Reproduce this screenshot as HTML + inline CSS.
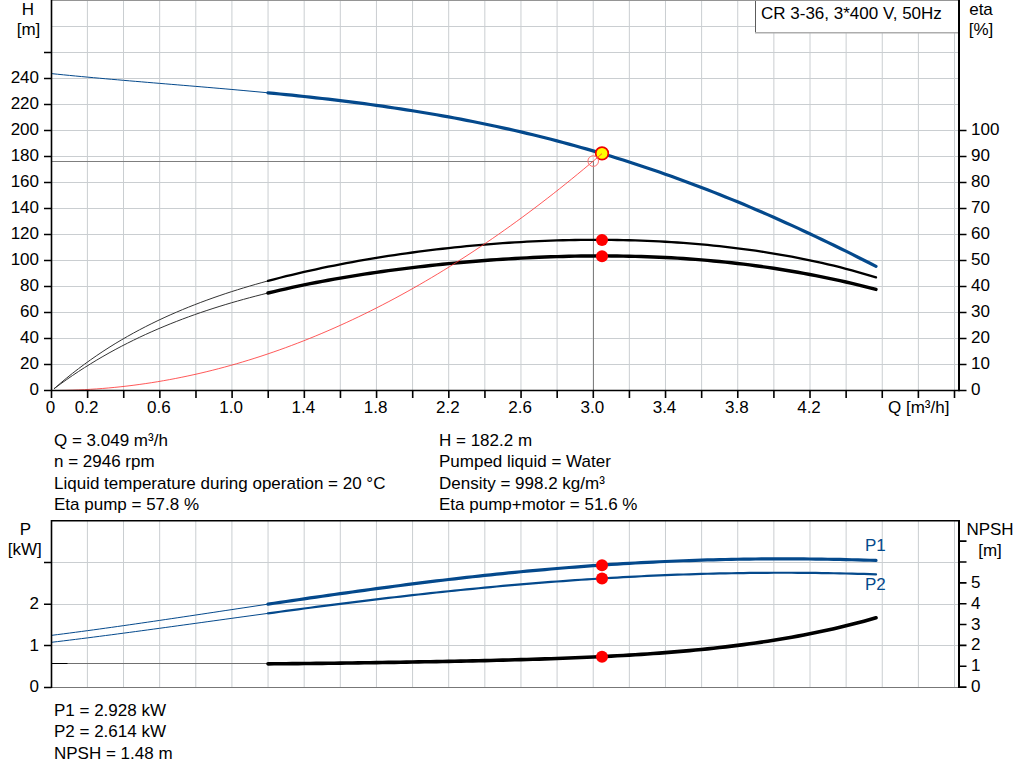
<!DOCTYPE html><html><head><meta charset="utf-8"><style>html,body{margin:0;padding:0;background:#fff;width:1024px;height:781px;overflow:hidden}svg{display:block}text{font-family:"Liberation Sans",sans-serif;font-size:17px;fill:#000}</style></head><body>
<svg width="1024" height="781" viewBox="0 0 1024 781">
<path d="M87.40,0V390M87.40,520.5V687M123.53,0V390M123.53,520.5V687M159.66,0V390M159.66,520.5V687M195.79,0V390M195.79,520.5V687M231.92,0V390M231.92,520.5V687M268.05,0V390M268.05,520.5V687M304.18,0V390M304.18,520.5V687M340.31,0V390M340.31,520.5V687M376.44,0V390M376.44,520.5V687M412.57,0V390M412.57,520.5V687M448.70,0V390M448.70,520.5V687M484.83,0V390M484.83,520.5V687M520.96,0V390M520.96,520.5V687M557.09,0V390M557.09,520.5V687M593.22,0V390M593.22,520.5V687M629.35,0V390M629.35,520.5V687M665.48,0V390M665.48,520.5V687M701.61,0V390M701.61,520.5V687M737.74,0V390M737.74,520.5V687M773.87,0V390M773.87,520.5V687M810.00,0V390M810.00,520.5V687M846.13,0V390M846.13,520.5V687M882.26,0V390M882.26,520.5V687M918.39,0V390M918.39,520.5V687M954.52,0V390M954.52,520.5V687" stroke="#caced1" stroke-width="1" fill="none"/>
<path d="M51,364.5H959M51,338.5H959M51,312.5H959M51,286.5H959M51,260.5H959M51,234.5H959M51,208.5H959M51,182.5H959M51,156.5H959M51,130.5H959M51,104.5H959M51,78.5H959M51,52.5H959M51,26.5H959M51,562.5H959M51,604.5H959M51,645.5H959" stroke="#caced1" stroke-width="1" fill="none" shape-rendering="crispEdges"/>
<rect x="755" y="0" width="204" height="33" fill="#fff"/>
<path d="M755.5,0V32.5" stroke="#5c5c5c" stroke-width="1"/>
<path d="M755,32.75H958" stroke="#adadad" stroke-width="1.5"/>
<path d="M958.5,0V33" stroke="#c8c8c8" stroke-width="1"/>
<path d="M51,0.5H959" stroke="#959595" stroke-width="1" shape-rendering="crispEdges"/>
<text x="761" y="19">CR 3-36, 3*400 V, 50Hz</text>
<path d="M51,161.5H593.5V390" stroke="#7f7f7f" stroke-width="1" fill="none" shape-rendering="crispEdges"/>
<path d="M51.50,73.61 L57.51,74.23 L63.53,74.83 L69.54,75.42 L75.56,76.00 L81.57,76.57 L87.58,77.13 L93.60,77.69 L99.61,78.23 L105.62,78.77 L111.64,79.30 L117.65,79.82 L123.67,80.34 L129.68,80.86 L135.69,81.37 L141.71,81.87 L147.72,82.38 L153.74,82.88 L159.75,83.38 L165.76,83.88 L171.78,84.38 L177.79,84.88 L183.81,85.38 L189.82,85.88 L195.83,86.38 L201.85,86.89 L207.86,87.40 L213.88,87.91 L219.89,88.43 L225.90,88.95 L231.92,89.48 L237.93,90.02 L243.94,90.56 L249.96,91.11 L255.97,91.67 L261.99,92.23 L268.00,92.81" stroke="#04498c" stroke-width="1" fill="none"/>
<path d="M268.00,92.81 L274.02,93.39 L280.04,93.99 L286.06,94.59 L292.08,95.21 L298.10,95.84 L304.12,96.48 L310.14,97.14 L316.16,97.81 L322.18,98.49 L328.20,99.19 L334.22,99.90 L340.24,100.63 L346.26,101.37 L352.28,102.13 L358.30,102.91 L364.32,103.70 L370.34,104.52 L376.36,105.35 L382.38,106.20 L388.40,107.07 L394.42,107.96 L400.44,108.87 L406.46,109.80 L412.48,110.75 L418.50,111.72 L424.51,112.72 L430.53,113.73 L436.55,114.77 L442.57,115.84 L448.59,116.92 L454.61,118.03 L460.63,119.17 L466.65,120.33 L472.67,121.51 L478.69,122.72 L484.71,123.96 L490.73,125.22 L496.75,126.51 L502.77,127.82 L508.79,129.16 L514.81,130.53 L520.83,131.92 L526.85,133.35 L532.87,134.80 L538.89,136.28 L544.91,137.78 L550.93,139.32 L556.95,140.88 L562.97,142.48 L568.99,144.10 L575.01,145.75 L581.03,147.44 L587.05,149.15 L593.07,150.89 L599.09,152.66 L605.11,154.46 L611.13,156.29 L617.15,158.16 L623.17,160.05 L629.19,161.97 L635.21,163.93 L641.23,165.91 L647.25,167.93 L653.27,169.97 L659.29,172.05 L665.31,174.16 L671.33,176.30 L677.35,178.47 L683.37,180.66 L689.39,182.90 L695.41,185.16 L701.43,187.45 L707.45,189.77 L713.47,192.12 L719.49,194.51 L725.50,196.92 L731.52,199.36 L737.54,201.83 L743.56,204.34 L749.58,206.87 L755.60,209.43 L761.62,212.02 L767.64,214.64 L773.66,217.29 L779.68,219.96 L785.70,222.67 L791.72,225.40 L797.74,228.16 L803.76,230.95 L809.78,233.76 L815.80,236.60 L821.82,239.47 L827.84,242.36 L833.86,245.28 L839.88,248.22 L845.90,251.19 L851.92,254.18 L857.94,257.20 L863.96,260.24 L869.98,263.30 L876.00,266.39" stroke="#04498c" stroke-width="3.2" fill="none" stroke-linecap="round"/>
<path d="M54.00,388.82 L60.11,383.51 L66.23,378.39 L72.34,373.46 L78.46,368.72 L84.57,364.15 L90.69,359.74 L96.80,355.50 L102.91,351.41 L109.03,347.47 L115.14,343.67 L121.26,340.01 L127.37,336.47 L133.49,333.06 L139.60,329.77 L145.71,326.59 L151.83,323.53 L157.94,320.56 L164.06,317.70 L170.17,314.93 L176.29,312.26 L182.40,309.67 L188.51,307.17 L194.63,304.74 L200.74,302.40 L206.86,300.13 L212.97,297.93 L219.09,295.80 L225.20,293.73 L231.31,291.73 L237.43,289.79 L243.54,287.90 L249.66,286.08 L255.77,284.30 L261.89,282.58 L268.00,280.90" stroke="#333" stroke-width="1" fill="none"/>
<path d="M268.00,280.90 L274.02,279.30 L280.04,277.74 L286.06,276.23 L292.08,274.76 L298.10,273.32 L304.12,271.93 L310.14,270.58 L316.16,269.26 L322.18,267.97 L328.20,266.73 L334.22,265.51 L340.24,264.33 L346.26,263.18 L352.28,262.06 L358.30,260.98 L364.32,259.92 L370.34,258.89 L376.36,257.89 L382.38,256.93 L388.40,255.98 L394.42,255.07 L400.44,254.19 L406.46,253.33 L412.48,252.50 L418.50,251.69 L424.51,250.92 L430.53,250.17 L436.55,249.44 L442.57,248.74 L448.59,248.07 L454.61,247.42 L460.63,246.80 L466.65,246.21 L472.67,245.64 L478.69,245.10 L484.71,244.58 L490.73,244.09 L496.75,243.62 L502.77,243.19 L508.79,242.77 L514.81,242.39 L520.83,242.03 L526.85,241.70 L532.87,241.39 L538.89,241.11 L544.91,240.86 L550.93,240.63 L556.95,240.44 L562.97,240.27 L568.99,240.12 L575.01,240.01 L581.03,239.92 L587.05,239.86 L593.07,239.83 L599.09,239.83 L605.11,239.85 L611.13,239.91 L617.15,239.99 L623.17,240.11 L629.19,240.25 L635.21,240.43 L641.23,240.63 L647.25,240.87 L653.27,241.13 L659.29,241.43 L665.31,241.76 L671.33,242.12 L677.35,242.51 L683.37,242.93 L689.39,243.39 L695.41,243.88 L701.43,244.40 L707.45,244.96 L713.47,245.56 L719.49,246.18 L725.50,246.85 L731.52,247.55 L737.54,248.28 L743.56,249.06 L749.58,249.87 L755.60,250.72 L761.62,251.61 L767.64,252.55 L773.66,253.52 L779.68,254.53 L785.70,255.59 L791.72,256.69 L797.74,257.84 L803.76,259.03 L809.78,260.27 L815.80,261.56 L821.82,262.90 L827.84,264.29 L833.86,265.73 L839.88,267.23 L845.90,268.78 L851.92,270.39 L857.94,272.05 L863.96,273.78 L869.98,275.57 L876.00,277.43" stroke="#000" stroke-width="2.3" fill="none" stroke-linecap="round"/>
<path d="M54.00,388.74 L60.11,384.23 L66.23,379.86 L72.34,375.63 L78.46,371.54 L84.57,367.58 L90.69,363.75 L96.80,360.04 L102.91,356.46 L109.03,352.99 L115.14,349.64 L121.26,346.39 L127.37,343.25 L133.49,340.21 L139.60,337.26 L145.71,334.42 L151.83,331.66 L157.94,328.99 L164.06,326.41 L170.17,323.91 L176.29,321.49 L182.40,319.14 L188.51,316.87 L194.63,314.67 L200.74,312.54 L206.86,310.48 L212.97,308.48 L219.09,306.54 L225.20,304.66 L231.31,302.84 L237.43,301.08 L243.54,299.36 L249.66,297.70 L255.77,296.09 L261.89,294.53 L268.00,293.01" stroke="#333" stroke-width="1" fill="none"/>
<path d="M268.00,293.01 L274.02,291.56 L280.04,290.15 L286.06,288.79 L292.08,287.46 L298.10,286.17 L304.12,284.92 L310.14,283.70 L316.16,282.52 L322.18,281.37 L328.20,280.25 L334.22,279.17 L340.24,278.11 L346.26,277.09 L352.28,276.09 L358.30,275.13 L364.32,274.19 L370.34,273.27 L376.36,272.39 L382.38,271.53 L388.40,270.69 L394.42,269.88 L400.44,269.10 L406.46,268.33 L412.48,267.60 L418.50,266.88 L424.51,266.19 L430.53,265.52 L436.55,264.87 L442.57,264.25 L448.59,263.65 L454.61,263.07 L460.63,262.51 L466.65,261.97 L472.67,261.46 L478.69,260.97 L484.71,260.50 L490.73,260.05 L496.75,259.62 L502.77,259.22 L508.79,258.84 L514.81,258.48 L520.83,258.14 L526.85,257.83 L532.87,257.54 L538.89,257.27 L544.91,257.03 L550.93,256.80 L556.95,256.61 L562.97,256.43 L568.99,256.29 L575.01,256.16 L581.03,256.06 L587.05,255.99 L593.07,255.94 L599.09,255.92 L605.11,255.92 L611.13,255.96 L617.15,256.01 L623.17,256.10 L629.19,256.21 L635.21,256.35 L641.23,256.52 L647.25,256.72 L653.27,256.95 L659.29,257.21 L665.31,257.50 L671.33,257.82 L677.35,258.17 L683.37,258.55 L689.39,258.96 L695.41,259.41 L701.43,259.89 L707.45,260.40 L713.47,260.94 L719.49,261.52 L725.50,262.13 L731.52,262.78 L737.54,263.46 L743.56,264.17 L749.58,264.92 L755.60,265.71 L761.62,266.54 L767.64,267.40 L773.66,268.29 L779.68,269.23 L785.70,270.20 L791.72,271.21 L797.74,272.26 L803.76,273.34 L809.78,274.47 L815.80,275.63 L821.82,276.83 L827.84,278.07 L833.86,279.35 L839.88,280.67 L845.90,282.03 L851.92,283.43 L857.94,284.88 L863.96,286.36 L869.98,287.88 L876.00,289.44" stroke="#000" stroke-width="3.4" fill="none" stroke-linecap="round"/>
<circle cx="602" cy="240" r="6" fill="#ff0000"/>
<circle cx="602" cy="256.3" r="6" fill="#ff0000"/>
<circle cx="602" cy="153.4" r="6.3" fill="#ffff00" stroke="#f00000" stroke-width="1.7"/>
<path d="M60.00,390.44 L66.09,390.33 L72.18,390.17 L78.27,389.94 L84.36,389.66 L90.45,389.31 L96.54,388.91 L102.63,388.46 L108.72,387.94 L114.81,387.37 L120.90,386.74 L126.99,386.05 L133.08,385.30 L139.17,384.49 L145.26,383.63 L151.35,382.71 L157.44,381.73 L163.53,380.69 L169.62,379.60 L175.71,378.44 L181.80,377.23 L187.89,375.96 L193.98,374.63 L200.07,373.25 L206.16,371.80 L212.25,370.30 L218.34,368.74 L224.43,367.13 L230.52,365.45 L236.61,363.72 L242.70,361.93 L248.79,360.08 L254.88,358.17 L260.97,356.21 L267.06,354.18 L273.15,352.10 L279.24,349.96 L285.33,347.77 L291.42,345.51 L297.51,343.20 L303.60,340.83 L309.69,338.40 L315.78,335.91 L321.87,333.37 L327.96,330.76 L334.04,328.10 L340.13,325.38 L346.22,322.61 L352.31,319.77 L358.40,316.88 L364.49,313.93 L370.58,310.92 L376.67,307.85 L382.76,304.73 L388.85,301.55 L394.94,298.31 L401.03,295.01 L407.12,291.65 L413.21,288.24 L419.30,284.77 L425.39,281.24 L431.48,277.65 L437.57,274.00 L443.66,270.30 L449.75,266.53 L455.84,262.71 L461.93,258.84 L468.02,254.90 L474.11,250.91 L480.20,246.85 L486.29,242.74 L492.38,238.57 L498.47,234.35 L504.56,230.06 L510.65,225.72 L516.74,221.32 L522.83,216.86 L528.92,212.35 L535.01,207.77 L541.10,203.14 L547.19,198.45 L553.28,193.71 L559.37,188.90 L565.46,184.04 L571.55,179.11 L577.64,174.13 L583.73,169.10 L589.82,164.00 L595.91,158.85 L602.00,153.64" stroke="#ff3030" stroke-opacity="0.8" stroke-width="1" fill="none"/>
<circle cx="593.2" cy="161.1" r="5.3" fill="none" stroke="#ff7070" stroke-width="1"/>
<path d="M51.5,0V391.25M50.75,390.5H959.75M44,390.5H51.5M44,364.5H51.5M44,338.5H51.5M44,312.5H51.5M44,286.5H51.5M44,260.5H51.5M44,234.5H51.5M44,208.5H51.5M44,182.5H51.5M44,156.5H51.5M44,130.5H51.5M44,104.5H51.5M44,78.5H51.5M44,52.5H51.5M959,390.5H966.5M959,364.5H966.5M959,338.5H966.5M959,312.5H966.5M959,286.5H966.5M959,260.5H966.5M959,234.5H966.5M959,208.5H966.5M959,182.5H966.5M959,156.5H966.5M959,130.5H966.5M51.50,390.5V398M87.62,390.5V398M123.74,390.5V398M159.86,390.5V398M195.98,390.5V398M232.10,390.5V398M268.22,390.5V398M304.34,390.5V398M340.46,390.5V398M376.58,390.5V398M412.70,390.5V398M448.82,390.5V398M484.94,390.5V398M521.06,390.5V398M557.18,390.5V398M593.30,390.5V398M629.42,390.5V398M665.54,390.5V398M701.66,390.5V398M737.78,390.5V398M773.90,390.5V398M810.02,390.5V398M846.14,390.5V398M882.26,390.5V398M918.38,390.5V398M954.50,390.5V398" stroke="#000" stroke-width="1.6" fill="none"/>
<path d="M959,0V391.25" stroke="#000" stroke-width="2" fill="none"/>
<text x="39" y="394.5" text-anchor="end">0</text>
<text x="39" y="368.5" text-anchor="end">20</text>
<text x="39" y="342.5" text-anchor="end">40</text>
<text x="39" y="316.5" text-anchor="end">60</text>
<text x="39" y="290.5" text-anchor="end">80</text>
<text x="39" y="264.5" text-anchor="end">100</text>
<text x="39" y="238.5" text-anchor="end">120</text>
<text x="39" y="212.5" text-anchor="end">140</text>
<text x="39" y="186.5" text-anchor="end">160</text>
<text x="39" y="160.5" text-anchor="end">180</text>
<text x="39" y="134.5" text-anchor="end">200</text>
<text x="39" y="108.5" text-anchor="end">220</text>
<text x="39" y="82.5" text-anchor="end">240</text>
<text x="971" y="395.3">0</text>
<text x="971" y="369.3">10</text>
<text x="971" y="343.3">20</text>
<text x="971" y="317.3">30</text>
<text x="971" y="291.3">40</text>
<text x="971" y="265.3">50</text>
<text x="971" y="239.3">60</text>
<text x="971" y="213.3">70</text>
<text x="971" y="187.3">80</text>
<text x="971" y="161.3">90</text>
<text x="971" y="135.3">100</text>
<text x="50.5" y="413" text-anchor="middle">0</text>
<text x="86.6" y="413" text-anchor="middle">0.2</text>
<text x="158.9" y="413" text-anchor="middle">0.6</text>
<text x="231.1" y="413" text-anchor="middle">1.0</text>
<text x="303.3" y="413" text-anchor="middle">1.4</text>
<text x="375.6" y="413" text-anchor="middle">1.8</text>
<text x="447.8" y="413" text-anchor="middle">2.2</text>
<text x="520.1" y="413" text-anchor="middle">2.6</text>
<text x="592.3" y="413" text-anchor="middle">3.0</text>
<text x="664.5" y="413" text-anchor="middle">3.4</text>
<text x="736.8" y="413" text-anchor="middle">3.8</text>
<text x="809.0" y="413" text-anchor="middle">4.2</text>
<text x="888" y="413">Q [m³/h]</text>
<text x="28" y="15.2" text-anchor="middle">H</text>
<text x="28.5" y="35" text-anchor="middle">[m]</text>
<text x="981" y="15" text-anchor="middle">eta</text>
<text x="981" y="35.2" text-anchor="middle">[%]</text>
<text x="54" y="445.6">Q = 3.049 m³/h</text>
<text x="54" y="466.9">n = 2946 rpm</text>
<text x="54" y="489.2">Liquid temperature during operation = 20 °C</text>
<text x="54" y="509.6">Eta pump = 57.8 %</text>
<text x="439" y="445.6">H = 182.2 m</text>
<text x="439" y="466.9">Pumped liquid = Water</text>
<text x="439" y="489.2">Density = 998.2 kg/m³</text>
<text x="439" y="509.6">Eta pump+motor = 51.6 %</text>
<path d="M51,687.5H959" stroke="#777" stroke-width="1" shape-rendering="crispEdges"/>
<text x="865" y="551" style="fill:#04498c">P1</text>
<text x="865" y="590" style="fill:#04498c">P2</text>
<path d="M51.50,635.36 L57.51,634.60 L63.53,633.83 L69.54,633.05 L75.56,632.26 L81.57,631.46 L87.58,630.65 L93.60,629.83 L99.61,629.00 L105.62,628.17 L111.64,627.33 L117.65,626.48 L123.67,625.62 L129.68,624.76 L135.69,623.90 L141.71,623.02 L147.72,622.15 L153.74,621.27 L159.75,620.38 L165.76,619.49 L171.78,618.60 L177.79,617.71 L183.81,616.81 L189.82,615.91 L195.83,615.01 L201.85,614.11 L207.86,613.20 L213.88,612.30 L219.89,611.39 L225.90,610.48 L231.92,609.58 L237.93,608.67 L243.94,607.77 L249.96,606.86 L255.97,605.96 L261.99,605.06 L268.00,604.16" stroke="#04498c" stroke-width="1" fill="none"/>
<path d="M268.00,604.16 L274.02,603.27 L280.04,602.37 L286.06,601.48 L292.08,600.59 L298.10,599.71 L304.12,598.83 L310.14,597.95 L316.16,597.08 L322.18,596.21 L328.20,595.35 L334.22,594.49 L340.24,593.64 L346.26,592.80 L352.28,591.96 L358.30,591.12 L364.32,590.29 L370.34,589.47 L376.36,588.66 L382.38,587.85 L388.40,587.05 L394.42,586.26 L400.44,585.48 L406.46,584.70 L412.48,583.94 L418.50,583.18 L424.51,582.43 L430.53,581.69 L436.55,580.96 L442.57,580.23 L448.59,579.52 L454.61,578.82 L460.63,578.13 L466.65,577.44 L472.67,576.77 L478.69,576.11 L484.71,575.46 L490.73,574.82 L496.75,574.19 L502.77,573.57 L508.79,572.96 L514.81,572.36 L520.83,571.78 L526.85,571.20 L532.87,570.64 L538.89,570.09 L544.91,569.56 L550.93,569.03 L556.95,568.52 L562.97,568.02 L568.99,567.53 L575.01,567.05 L581.03,566.59 L587.05,566.14 L593.07,565.70 L599.09,565.28 L605.11,564.87 L611.13,564.47 L617.15,564.09 L623.17,563.72 L629.19,563.36 L635.21,563.01 L641.23,562.68 L647.25,562.36 L653.27,562.06 L659.29,561.77 L665.31,561.49 L671.33,561.23 L677.35,560.98 L683.37,560.75 L689.39,560.53 L695.41,560.32 L701.43,560.12 L707.45,559.94 L713.47,559.78 L719.49,559.63 L725.50,559.49 L731.52,559.36 L737.54,559.25 L743.56,559.16 L749.58,559.07 L755.60,559.00 L761.62,558.95 L767.64,558.91 L773.66,558.88 L779.68,558.87 L785.70,558.87 L791.72,558.88 L797.74,558.91 L803.76,558.95 L809.78,559.00 L815.80,559.07 L821.82,559.15 L827.84,559.24 L833.86,559.34 L839.88,559.46 L845.90,559.60 L851.92,559.74 L857.94,559.90 L863.96,560.07 L869.98,560.25 L876.00,560.45" stroke="#04498c" stroke-width="3.2" fill="none" stroke-linecap="round"/>
<path d="M51.50,642.31 L57.51,641.59 L63.53,640.86 L69.54,640.12 L75.56,639.38 L81.57,638.62 L87.58,637.86 L93.60,637.09 L99.61,636.32 L105.62,635.53 L111.64,634.75 L117.65,633.95 L123.67,633.15 L129.68,632.35 L135.69,631.54 L141.71,630.73 L147.72,629.91 L153.74,629.09 L159.75,628.27 L165.76,627.45 L171.78,626.62 L177.79,625.79 L183.81,624.96 L189.82,624.13 L195.83,623.30 L201.85,622.47 L207.86,621.63 L213.88,620.80 L219.89,619.97 L225.90,619.14 L231.92,618.31 L237.93,617.48 L243.94,616.65 L249.96,615.83 L255.97,615.01 L261.99,614.19 L268.00,613.37" stroke="#04498c" stroke-width="1" fill="none"/>
<path d="M268.00,613.37 L274.02,612.55 L280.04,611.74 L286.06,610.93 L292.08,610.13 L298.10,609.33 L304.12,608.53 L310.14,607.74 L316.16,606.96 L322.18,606.17 L328.20,605.40 L334.22,604.63 L340.24,603.86 L346.26,603.10 L352.28,602.35 L358.30,601.60 L364.32,600.86 L370.34,600.13 L376.36,599.40 L382.38,598.68 L388.40,597.96 L394.42,597.26 L400.44,596.56 L406.46,595.87 L412.48,595.18 L418.50,594.51 L424.51,593.84 L430.53,593.18 L436.55,592.53 L442.57,591.89 L448.59,591.26 L454.61,590.63 L460.63,590.02 L466.65,589.41 L472.67,588.81 L478.69,588.23 L484.71,587.65 L490.73,587.08 L496.75,586.52 L502.77,585.97 L508.79,585.43 L514.81,584.90 L520.83,584.38 L526.85,583.87 L532.87,583.37 L538.89,582.89 L544.91,582.41 L550.93,581.94 L556.95,581.49 L562.97,581.04 L568.99,580.60 L575.01,580.18 L581.03,579.77 L587.05,579.37 L593.07,578.98 L599.09,578.60 L605.11,578.23 L611.13,577.87 L617.15,577.53 L623.17,577.19 L629.19,576.87 L635.21,576.56 L641.23,576.26 L647.25,575.97 L653.27,575.70 L659.29,575.44 L665.31,575.18 L671.33,574.95 L677.35,574.72 L683.37,574.50 L689.39,574.30 L695.41,574.11 L701.43,573.93 L707.45,573.77 L713.47,573.61 L719.49,573.47 L725.50,573.34 L731.52,573.23 L737.54,573.12 L743.56,573.03 L749.58,572.96 L755.60,572.89 L761.62,572.84 L767.64,572.80 L773.66,572.77 L779.68,572.76 L785.70,572.76 L791.72,572.77 L797.74,572.80 L803.76,572.83 L809.78,572.89 L815.80,572.95 L821.82,573.03 L827.84,573.12 L833.86,573.23 L839.88,573.35 L845.90,573.48 L851.92,573.62 L857.94,573.78 L863.96,573.96 L869.98,574.14 L876.00,574.34" stroke="#04498c" stroke-width="2.2" fill="none" stroke-linecap="round"/>
<path d="M51,663.5H268" stroke="#707070" stroke-width="1" fill="none"/>
<path d="M51,663.5H67.5" stroke="#000" stroke-width="1" fill="none"/>
<path d="M268.00,663.85 L274.02,663.81 L280.04,663.77 L286.06,663.72 L292.08,663.66 L298.10,663.61 L304.12,663.55 L310.14,663.48 L316.16,663.42 L322.18,663.35 L328.20,663.28 L334.22,663.20 L340.24,663.12 L346.26,663.04 L352.28,662.96 L358.30,662.88 L364.32,662.79 L370.34,662.70 L376.36,662.61 L382.38,662.52 L388.40,662.42 L394.42,662.33 L400.44,662.23 L406.46,662.13 L412.48,662.02 L418.50,661.92 L424.51,661.81 L430.53,661.70 L436.55,661.59 L442.57,661.48 L448.59,661.36 L454.61,661.24 L460.63,661.11 L466.65,660.99 L472.67,660.85 L478.69,660.72 L484.71,660.58 L490.73,660.44 L496.75,660.29 L502.77,660.14 L508.79,659.98 L514.81,659.82 L520.83,659.65 L526.85,659.47 L532.87,659.29 L538.89,659.10 L544.91,658.90 L550.93,658.70 L556.95,658.49 L562.97,658.27 L568.99,658.03 L575.01,657.79 L581.03,657.54 L587.05,657.28 L593.07,657.01 L599.09,656.72 L605.11,656.43 L611.13,656.12 L617.15,655.79 L623.17,655.45 L629.19,655.10 L635.21,654.73 L641.23,654.35 L647.25,653.95 L653.27,653.53 L659.29,653.09 L665.31,652.64 L671.33,652.16 L677.35,651.66 L683.37,651.15 L689.39,650.61 L695.41,650.04 L701.43,649.46 L707.45,648.85 L713.47,648.21 L719.49,647.55 L725.50,646.86 L731.52,646.14 L737.54,645.39 L743.56,644.62 L749.58,643.81 L755.60,642.97 L761.62,642.10 L767.64,641.19 L773.66,640.25 L779.68,639.27 L785.70,638.26 L791.72,637.20 L797.74,636.11 L803.76,634.98 L809.78,633.81 L815.80,632.60 L821.82,631.34 L827.84,630.03 L833.86,628.68 L839.88,627.29 L845.90,625.84 L851.92,624.35 L857.94,622.80 L863.96,621.21 L869.98,619.56 L876.00,617.85" stroke="#000" stroke-width="3.6" fill="none" stroke-linecap="round"/>
<circle cx="602" cy="565.25" r="6" fill="#ff0000"/>
<circle cx="602" cy="578.5" r="6" fill="#ff0000"/>
<circle cx="602" cy="656.75" r="6" fill="#ff0000"/>
<path d="M51.5,520V688M50.75,520.75H959.75M44,687.5H51.5M44,645.5H51.5M44,604.25H51.5M44,562.5H51.5M959,687.10H966.5M959,666.25H966.5M959,645.40H966.5M959,624.55H966.5M959,603.70H966.5M959,582.85H966.5M959,562.00H966.5M959,541.15H966.5" stroke="#000" stroke-width="1.6" fill="none"/>
<path d="M959,520V688" stroke="#000" stroke-width="2" fill="none"/>
<text x="39" y="691.6" text-anchor="end">0</text>
<text x="39" y="651.1" text-anchor="end">1</text>
<text x="39" y="609.4" text-anchor="end">2</text>
<text x="971" y="692.1">0</text>
<text x="971" y="671.2">1</text>
<text x="971" y="650.4">2</text>
<text x="971" y="629.6">3</text>
<text x="971" y="608.7">4</text>
<text x="971" y="587.9">5</text>
<text x="25.3" y="535" text-anchor="middle">P</text>
<text x="24.8" y="555" text-anchor="middle">[kW]</text>
<text x="990" y="535" text-anchor="middle">NPSH</text>
<text x="990" y="556" text-anchor="middle">[m]</text>
<text x="54" y="716">P1 = 2.928 kW</text>
<text x="54" y="737.4">P2 = 2.614 kW</text>
<text x="54" y="758.8">NPSH = 1.48 m</text>
</svg></body></html>
